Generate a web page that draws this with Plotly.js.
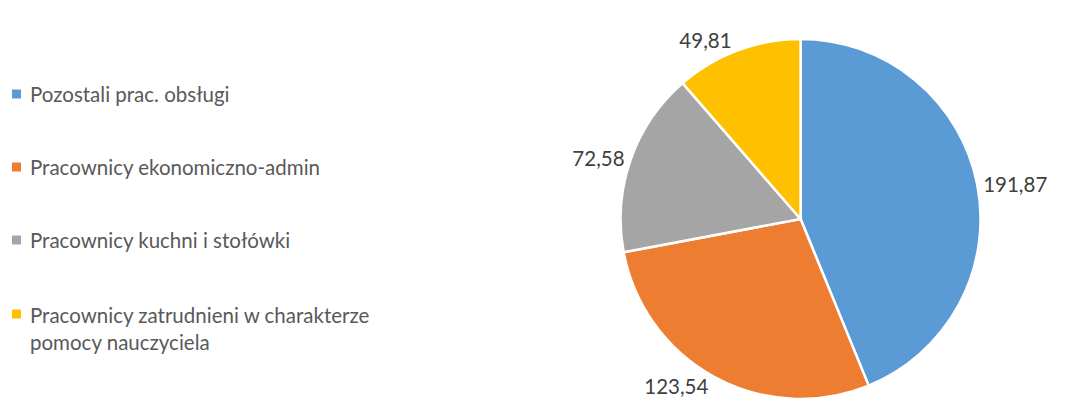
<!DOCTYPE html>
<html><head><meta charset="utf-8">
<script src="https://cdn.plot.ly/plotly-3.0.1.min.js"></script>
<style>html,body{margin:0;padding:0;background:#fff}#c{width:1066px;height:417px}</style>
</head><body><div id="c"></div>
<script>
const categories = ["Pozostali prac. obsługi", "Pracownicy ekonomiczno-admin", "Pracownicy kuchni i stołówki", "Pracownicy zatrudnieni w charakterze<br>pomocy nauczyciela"];
const values = [191.87, 123.54, 72.58, 49.81];
const colors = ["#5B9BD5", "#ED7D31", "#A5A5A5", "#FFC000"];

const FONT = "Lato, 'Open Sans', sans-serif";
const trace = {
  type: "pie", labels: categories, values: values, sort: false, direction: "clockwise", rotation: 0,
  marker: {colors: colors, line: {color: "#ffffff", width: 2.5}},
  textposition: "outside", texttemplate: "%{value:.2f}",
  outsidetextfont: {family: FONT, size: 20.5, color: "#404040"},
  showlegend: false, hoverinfo: "label+value",
  domain: {x: [0.582, 0.920], y: [0.0432, 0.9065]}
};
const rowY = [94, 167, 240, 314];
const shapes = [], annotations = [];
categories.forEach((c, i) => {
  const yc = 1 - rowY[i] / 417;
  shapes.push({type: "rect", xref: "paper", yref: "paper", x0: 12/1066, x1: 21/1066, y0: yc - 4.5/417, y1: yc + 4.5/417, fillcolor: colors[i], line: {width: 0}});
  annotations.push({xref: "paper", yref: "paper", x: 28/1066, y: yc + (i === 3 ? 13/417 : 0), xanchor: "left", yanchor: i === 3 ? "top" : "middle", text: c, showarrow: false, align: "left", font: {family: FONT, size: 20.5, color: "#595959"}});
});
const layout = {width: 1066, height: 417, margin: {l: 0, r: 0, t: 0, b: 0}, paper_bgcolor: "#fff", separators: ", ", shapes, annotations, showlegend: false};
Plotly.newPlot("c", [trace], layout, {displayModeBar: false, staticPlot: true});
</script></body></html>
